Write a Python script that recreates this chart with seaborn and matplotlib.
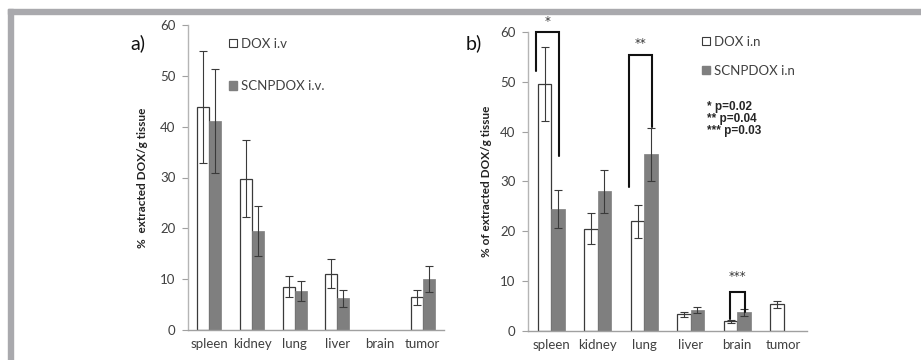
import matplotlib
matplotlib.use("Agg")
import matplotlib.pyplot as plt
from matplotlib.patches import Patch, Rectangle
import numpy as np
import pandas as pd
import seaborn as sns

sns.set_style("white")
plt.rcParams['font.family'] = ['Lato', 'DejaVu Sans']

#-- data --
organs      = ["spleen", "kidney", "lung", "liver", "brain", "tumor"]
nan         = np.nan

# a) intravenous
iv_dox      = [43.8, 29.8, 8.5, 11.1, nan, 6.4]
iv_dox_err  = [11.0, 7.5, 2.1, 2.9, nan, 1.55]
iv_scnp     = [41.1, 19.5, 7.7, 6.2, nan, 10.0]
iv_scnp_err = [10.3, 4.9, 2.0, 1.6, nan, 2.55]

# b) intranasal
in_dox      = [49.6, 20.5, 22.0, 3.4, 2.0, 5.35]
in_dox_err  = [7.4, 3.1, 3.3, 0.5, 0.3, 0.75]
in_scnp     = [24.4, 28.0, 35.5, 4.2, 3.75, nan]
in_scnp_err = [3.8, 4.3, 5.3, 0.65, 0.75, nan]

p_text      = "* p=0.02\n** p=0.04\n*** p=0.03"

white_c = "white"
dark_c  = "#7f7f7f"
edge_c  = "#3a3a3a"
txt_c   = "#404040"


def make_df(dox, scnp, g1, g2):
    d1 = pd.DataFrame({'organ': organs, 'value': dox, 'group': g1})
    d2 = pd.DataFrame({'organ': organs, 'value': scnp, 'group': g2})
    return pd.concat([d1, d2], ignore_index=True)


def draw_panel(ax, dox, dox_err, scnp, scnp_err, g1, g2, width):
    df = make_df(dox, scnp, g1, g2)
    sns.barplot(data=df, x='organ', y='value', hue='group', order=organs,
                hue_order=[g1, g2], palette={g1: white_c, g2: dark_c},
                saturation=1, width=width, errorbar=None, legend=False, ax=ax)
    for p in ax.patches:
        fc = p.get_facecolor()
        if fc[0] > 0.9:
            p.set_edgecolor(edge_c)
            p.set_linewidth(0.9)
        else:
            p.set_edgecolor(dark_c)
            p.set_linewidth(0.5)
    xs = np.arange(len(organs))
    ax.errorbar(xs - width / 4, dox, yerr=dox_err, fmt='none', ecolor=edge_c,
                elinewidth=0.8, capsize=3, capthick=0.8)
    ax.errorbar(xs + width / 4, scnp, yerr=scnp_err, fmt='none', ecolor=edge_c,
                elinewidth=0.8, capsize=3, capthick=0.8)
    ax.set_ylim(0, 60)
    ax.set_xlim(-0.5, len(organs) - 0.5)
    ax.set_yticks(range(0, 61, 10))
    ax.set_xlabel("")
    for s in ['top', 'right']:
        ax.spines[s].set_visible(False)
    ax.spines['left'].set_color('#b5b5b5')
    ax.spines['bottom'].set_color('#a0a0a0')
    ax.spines['left'].set_linewidth(1.0)
    ax.spines['bottom'].set_linewidth(1.0)
    ax.tick_params(axis='y', length=4, color='#a0a0a0', labelsize=9.5,
                   labelcolor=txt_c, pad=5, left=True)
    ax.tick_params(axis='x', length=0, labelsize=9.5, labelcolor=txt_c, pad=6)
    ax.set_facecolor('white')
    return ax


fig = plt.figure(figsize=(9.21, 3.6), dpi=100)

# grey frame
fig.patches.append(Rectangle((8 / 921, 0), 4.5 / 921, (360 - 9) / 360,
                             transform=fig.transFigure, color='#a9a9ad', zorder=0))
fig.patches.append(Rectangle((8 / 921, (360 - 13.5) / 360), 913 / 921, 4.5 / 360,
                             transform=fig.transFigure, color='#a9a9ad', zorder=0))

ax1 = fig.add_axes([188 / 921, 30 / 360, 256 / 921, 305 / 360])
ax2 = fig.add_axes([528 / 921, 29 / 360, 279 / 921, 299 / 360])

draw_panel(ax1, iv_dox, iv_dox_err, iv_scnp, iv_scnp_err, "DOX i.v", "SCNPDOX i.v.", 0.56)
draw_panel(ax2, in_dox, in_dox_err, in_scnp, in_scnp_err, "DOX i.n", "SCNPDOX i.n", 0.58)

# x ticks between categories on panel b
ax2.set_xticks(np.arange(-0.5, len(organs), 1.0), minor=True)
ax2.tick_params(axis='x', which='minor', length=4, color='#a0a0a0', direction='out')

ax1.set_ylabel("%  extracted DOX/g tissue", fontsize=8.5, fontweight='bold',
               color='#222222', labelpad=9)
ax2.set_ylabel("% of extracted DOX/g tissue", fontsize=8.5, fontweight='bold',
               color='#222222', labelpad=6)

# legends
h1 = [Patch(facecolor=white_c, edgecolor=edge_c, linewidth=0.8, label="DOX i.v"),
      Patch(facecolor=dark_c, edgecolor=dark_c, label="SCNPDOX i.v.")]
ax1.legend(handles=h1, loc='upper left', bbox_to_anchor=(0.14, 0.975), frameon=False,
           fontsize=9.5, handlelength=0.6, handleheight=0.6, handletextpad=0.3,
           labelspacing=2.3, labelcolor=txt_c, borderaxespad=0)
h2 = [Patch(facecolor=white_c, edgecolor=edge_c, linewidth=0.8, label="DOX i.n"),
      Patch(facecolor=dark_c, edgecolor=dark_c, label="SCNPDOX i.n")]
ax2.legend(handles=h2, loc='upper left', bbox_to_anchor=(0.605, 1.005), frameon=False,
           fontsize=9.5, handlelength=0.6, handleheight=0.6, handletextpad=0.3,
           labelspacing=1.3, labelcolor=txt_c, borderaxespad=0)

ax2.text(0.64, 0.77, p_text, transform=ax2.transAxes, fontsize=8.5,
         fontweight='bold', va='top', ha='left', linespacing=1.0,
         family=['Liberation Sans Narrow', 'Liberation Sans', 'DejaVu Sans'])

# significance brackets: (category, left end, top, right end, stars, star height)
brackets = [(0, 52.2, 60.0, 35.2, "*", 62.2, -0.32, 0.165),
            (2, 28.9, 55.3, 41.0, "**", 57.6, -0.32, 0.165),
            (4, 2.4, 7.8, 3.9, "***", 11.0, -0.165, 0.17)]
for cat, yl, yt, yr, stars, ys, dl, dr in brackets:
    xl, xr = cat + dl, cat + dr
    ax2.plot([xl, xl, xr, xr], [yl, yt, yt, yr], color='#111111', lw=1.5,
             clip_on=False, solid_joinstyle='miter')
    ax2.text((xl + xr) / 2, ys, stars, ha='center', va='center', fontsize=8.5,
             color='#333333', clip_on=False, family='DejaVu Sans')

fig.text(130 / 921, 1 - 43 / 360, "a)", fontsize=14, va='center', ha='left', color='#111111')
fig.text(466 / 921, 1 - 43 / 360, "b)", fontsize=14, va='center', ha='left', color='#111111')

plt.savefig('out.png', dpi=100, facecolor='white')
